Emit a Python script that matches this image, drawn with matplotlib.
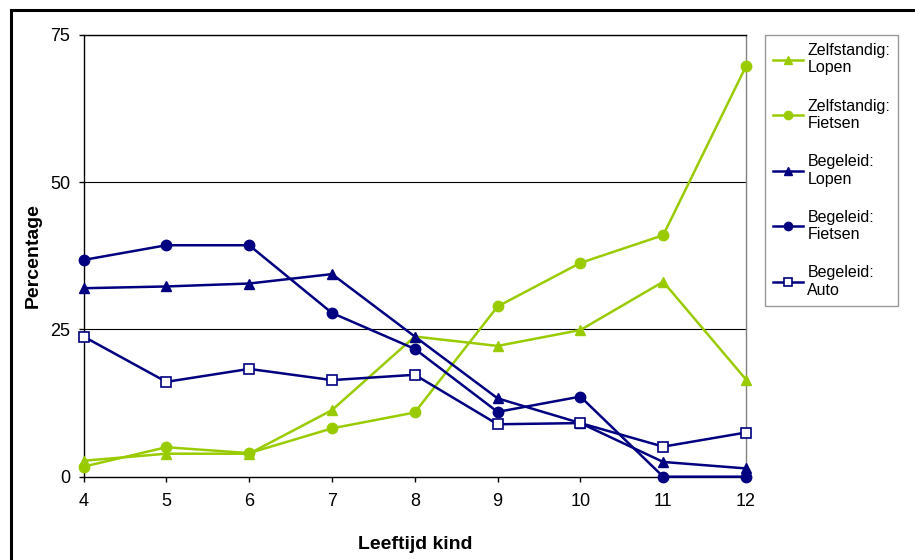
import matplotlib.pyplot as plt
from matplotlib.lines import Line2D

plt.rcParams['font.family'] = ['Liberation Sans', 'DejaVu Sans']

leeftijd = [4, 5, 6, 7, 8, 9, 10, 11, 12]
zelf_lopen = [2.7, 3.9, 3.9, 11.3, 23.8, 22.2, 24.9, 33.1, 16.5]
zelf_fietsen = [1.7, 5.0, 4.0, 8.2, 10.9, 28.9, 36.3, 41.0, 69.7]
beg_lopen = [32.0, 32.3, 32.8, 34.4, 23.8, 13.3, 9.1, 2.5, 1.4]
beg_fietsen = [36.8, 39.3, 39.3, 27.8, 21.7, 11.0, 13.6, 0.0, 0.0]
beg_auto = [23.8, 16.1, 18.3, 16.4, 17.3, 8.9, 9.1, 5.1, 7.5]

groen = '#99CC00'
blauw = '#000080'

fig = plt.figure(figsize=(9.15, 5.6), dpi=100)
ax = fig.add_axes([0.0913, 0.1488, 0.7240, 0.7887])

kw = dict(lw=1.8, clip_on=False, zorder=3)
ax.plot(leeftijd, zelf_lopen, color=groen, marker='^', ms=7.5,
        label='Zelfstandig:\nLopen', **kw)
ax.plot(leeftijd, zelf_fietsen, color=groen, marker='o', ms=7.5,
        label='Zelfstandig:\nFietsen', **kw)
ax.plot(leeftijd, beg_lopen, color=blauw, marker='^', ms=7.5,
        label='Begeleid:\nLopen', **kw)
ax.plot(leeftijd, beg_fietsen, color=blauw, marker='o', ms=7.5,
        label='Begeleid:\nFietsen', **kw)
ax.plot(leeftijd, beg_auto, color=blauw, marker='s', ms=6.5,
        markerfacecolor='white', markeredgewidth=1.2,
        label='Begeleid:\nAuto', **kw)

ax.set_xlim(4, 12)
ax.set_ylim(0, 75)
ax.set_xticks(leeftijd)
ax.set_yticks([0, 25, 50, 75])
ax.tick_params(axis='both', labelsize=13, length=3.6, width=1, color='black',
               direction='out', pad=6)
ax.tick_params(axis='x', pad=8)

for y in [25, 50, 75]:
    ax.axhline(y, color='black', lw=0.8, zorder=1)

ax.spines['left'].set_color('black')
ax.spines['bottom'].set_color('black')
ax.spines['right'].set_color('#808080')
ax.spines['top'].set_color('black')
for s in ax.spines.values():
    s.set_linewidth(1)

ax.set_xlabel('Leeftijd kind', fontsize=14, fontweight='bold')
ax.set_ylabel('Percentage', fontsize=14, fontweight='bold')
ax.xaxis.set_label_coords(0.5, -0.134)
ax.yaxis.set_label_coords(-0.063, 0.5)

leg = fig.legend(loc='upper left', bbox_to_anchor=(0.836, 0.9375), fontsize=11.5,
                 frameon=True, fancybox=False, edgecolor='#808080',
                 handlelength=1.9, handletextpad=0.25, labelspacing=1.45,
                 borderpad=0.5, borderaxespad=0, markerscale=0.8)
leg.get_frame().set_linewidth(1)

# rand boven en links
fig.add_artist(Line2D([11 / 915, 1.0], [1 - 10 / 560, 1 - 10 / 560],
                      transform=fig.transFigure, color='black', lw=2.2))
fig.add_artist(Line2D([11 / 915, 11 / 915], [0.0, 1 - 10 / 560],
                      transform=fig.transFigure, color='black', lw=2.2))

fig.savefig('out.png', dpi=100)
